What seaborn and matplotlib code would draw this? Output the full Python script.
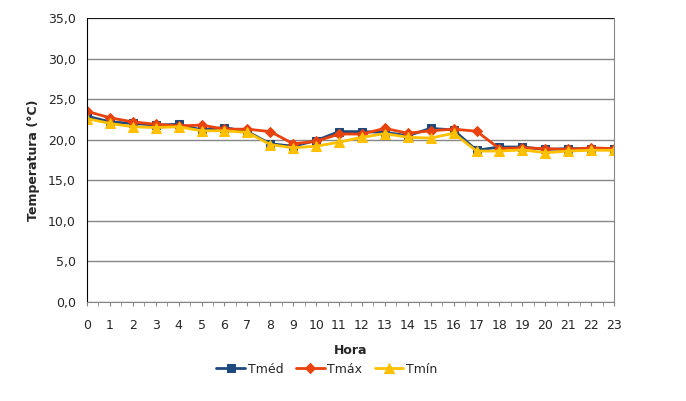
import pandas as pd
import matplotlib
matplotlib.use("Agg")
import matplotlib.pyplot as plt
import seaborn as sns
from matplotlib.ticker import FuncFormatter, MultipleLocator

# data
horas = list(range(24))
t_med = [22.9, 22.2, 22.0, 21.8, 21.9, 21.2, 21.5, 21.0, 19.5, 19.2, 19.9, 21.0,
         21.0, 20.9, 20.5, 21.4, 21.2, 18.7, 19.1, 19.1, 18.8, 18.9, 18.9, 18.9]
t_max = [23.5, 22.7, 22.2, 21.9, 21.7, 21.8, 21.3, 21.3, 21.0, 19.5, 19.8, 20.7,
         20.7, 21.4, 20.8, 21.1, 21.3, 21.05, 18.9, 19.0, 18.9, 18.8, 19.0, 18.9]
t_min = [22.6, 22.0, 21.6, 21.5, 21.6, 21.1, 21.1, 20.9, 19.4, 19.0, 19.2, 19.7,
         20.3, 20.75, 20.3, 20.2, 20.8, 18.6, 18.6, 18.75, 18.4, 18.6, 18.7, 18.7]
series_names = ["Tméd", "Tmáx", "Tmín"]
colors = ["#1F497D", "#E8420E", "#FFC000"]
markers = ["s", "D", "^"]
sizes = [6, 5.5, 7]

df = pd.DataFrame({
    "Hora": horas * 3,
    "Temp": t_med + t_max + t_min,
    "Serie": [s for s in series_names for _ in horas],
})

sns.set_style("white")
plt.rcParams["font.family"] = ["DejaVu Sans"]

fig = plt.figure(figsize=(6.86, 4.01), dpi=100)
ax = fig.add_axes([87 / 686, 1 - 302 / 401, (614 - 87) / 686, (302 - 18) / 401])

for name, c, m, ms in zip(series_names, colors, markers, sizes):
    sns.lineplot(data=df[df["Serie"] == name], x="Hora", y="Temp", ax=ax,
                 color=c, marker=m, markersize=ms, markeredgecolor=c,
                 linewidth=2, label=name)

ax.set_xlim(0, 23)
ax.set_ylim(0, 35)
ax.set_yticks([0, 5, 10, 15, 20, 25, 30, 35])
ax.yaxis.set_major_formatter(FuncFormatter(lambda v, p: f"{v:.1f}".replace(".", ",")))
ax.set_xticks(horas)
ax.xaxis.set_minor_locator(MultipleLocator(0.5))
ax.grid(axis="y", color="#868686", linewidth=1)
ax.set_axisbelow(True)
ax.axhline(35, color="black", linewidth=1.2, zorder=1)

ax.spines["left"].set_color("black")
ax.spines["top"].set_visible(False)
ax.spines["right"].set_color("#868686")
ax.spines["bottom"].set_color("#868686")
ax.tick_params(axis="x", which="both", direction="out", length=3, color="#868686",
               bottom=True)
ax.tick_params(axis="x", which="major", labelsize=9, pad=9)
ax.tick_params(axis="y", length=0, labelsize=9, pad=8)

ax.set_xlabel("Hora", fontsize=9, fontweight="bold", labelpad=9)
ax.set_ylabel("Temperatura (°C)", fontsize=9, fontweight="bold", labelpad=6)

ax.legend(loc="center", bbox_to_anchor=(0.455, -0.236), ncol=3, frameon=False,
          fontsize=9, handlelength=2.3, columnspacing=1.0, handletextpad=0.2)

fig.savefig("out.png", dpi=100)
plt.close(fig)
